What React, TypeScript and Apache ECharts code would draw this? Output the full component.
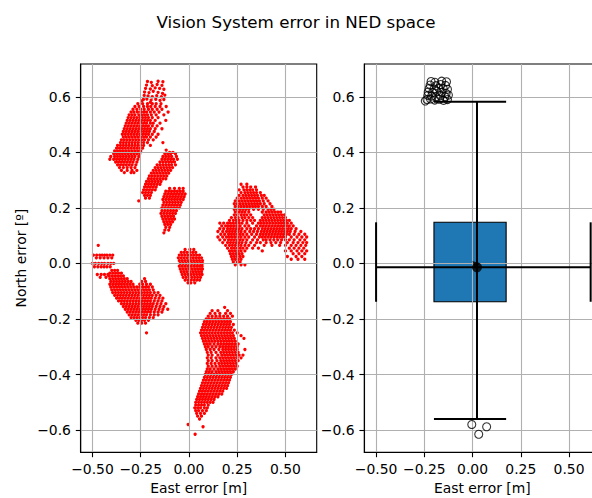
import React, { useEffect, useRef } from "react";
import * as echarts from "echarts";

const FONT = "DejaVu Sans";

// Axis window shared by both panels (matplotlib-style 5% margins)
const X_MIN = -0.561;
const X_MAX = 0.662;
const Y_MIN = -0.68;
const Y_MAX = 0.718;
const xTicks = [-0.5, -0.25, 0, 0.25, 0.5];
const yTicks = [-0.6, -0.4, -0.2, 0, 0.2, 0.4, 0.6];

// Vision error samples, grouped by cluster. Each row: [north, east, east, ...]
const northWestRows: number[][] = [
  [0.58, -0.2],
  [0.575, -0.265, -0.24, -0.215, -0.19, -0.17, -0.145],
  [0.565, -0.28, -0.258, -0.235, -0.215, -0.198, -0.175, -0.15, -0.118],
  [0.555, -0.29, -0.27, -0.25, -0.232, -0.21, -0.19, -0.165, -0.14],
  [0.545, -0.3, -0.285, -0.267, -0.25, -0.235, -0.22, -0.2, -0.18, -0.155, -0.108],
  [0.535, -0.31, -0.295, -0.28, -0.26, -0.245, -0.23, -0.215, -0.195, -0.17, -0.13],
  [0.525, -0.315, -0.3, -0.285, -0.27, -0.255, -0.24, -0.225, -0.21, -0.19, -0.16],
  [0.515, -0.32, -0.305, -0.29, -0.275, -0.26, -0.245, -0.23, -0.215, -0.2, -0.175, -0.12],
  [0.505, -0.325, -0.31, -0.295, -0.28, -0.265, -0.25, -0.235, -0.22, -0.2, -0.185, -0.15],
  [0.495, -0.33, -0.315, -0.3, -0.285, -0.27, -0.255, -0.24, -0.225, -0.21, -0.19, -0.165],
  [0.485, -0.335, -0.32, -0.305, -0.29, -0.275, -0.26, -0.245, -0.23, -0.215, -0.2, -0.175, -0.14],
  [0.475, -0.34, -0.325, -0.31, -0.295, -0.28, -0.265, -0.25, -0.235, -0.22, -0.205, -0.18],
  [0.465, -0.345, -0.33, -0.315, -0.3, -0.285, -0.27, -0.255, -0.24, -0.225, -0.21, -0.19, -0.16],
  [0.455, -0.34, -0.325, -0.31, -0.295, -0.28, -0.265, -0.25, -0.235, -0.22, -0.2, -0.17],
  [0.445, -0.35, -0.335, -0.32, -0.305, -0.29, -0.275, -0.26, -0.245, -0.23, -0.21, -0.185],
  [0.435, -0.355, -0.34, -0.325, -0.31, -0.295, -0.28, -0.265, -0.25, -0.235, -0.215, -0.135],
  [0.425, -0.37, -0.355, -0.34, -0.325, -0.31, -0.295, -0.28, -0.265, -0.25, -0.235, -0.2],
  [0.415, -0.375, -0.36, -0.345, -0.33, -0.315, -0.3, -0.285, -0.27, -0.255, -0.24],
  [0.405, -0.385, -0.37, -0.355, -0.34, -0.325, -0.31, -0.295, -0.28, -0.265, -0.25],
  [0.395, -0.39, -0.375, -0.36, -0.345, -0.33, -0.315, -0.3, -0.285, -0.27, -0.255],
  [0.385, -0.405, -0.385, -0.37, -0.355, -0.34, -0.325, -0.31, -0.295, -0.28, -0.26],
  [0.375, -0.41, -0.39, -0.375, -0.36, -0.345, -0.33, -0.315, -0.3, -0.285, -0.265],
  [0.365, -0.38, -0.365, -0.35, -0.335, -0.32, -0.305, -0.29, -0.27],
  [0.355, -0.37, -0.355, -0.34, -0.325, -0.31, -0.295, -0.275],
  [0.345, -0.36, -0.34, -0.32, -0.3, -0.28],
  [0.335, -0.35, -0.32, -0.295, -0.27],
  [0.327, -0.335, -0.3, -0.285],
];

// Sparse streak above the north-west cluster
const northWestTop: number[][] = [
  [-0.215, 0.655], [-0.195, 0.652], [-0.16, 0.656], [-0.135, 0.654],
  [-0.22, 0.642], [-0.19, 0.64], [-0.165, 0.644], [-0.14, 0.641],
  [-0.225, 0.63], [-0.2, 0.628], [-0.175, 0.632], [-0.152, 0.63], [-0.13, 0.627],
  [-0.23, 0.617], [-0.207, 0.615], [-0.185, 0.62], [-0.16, 0.616], [-0.137, 0.612],
  [-0.232, 0.605], [-0.212, 0.603], [-0.19, 0.6], [-0.167, 0.604], [-0.143, 0.6], [-0.125, 0.606],
  [-0.236, 0.59], [-0.218, 0.592], [-0.196, 0.588], [-0.172, 0.591], [-0.15, 0.587], [-0.13, 0.59],
  [-0.245, 0.585],
];

const northCentreRows: number[][] = [
  [0.408, -0.118],
  [0.4, -0.1, -0.083],
  [0.395, -0.125, -0.11, -0.095, -0.07],
  [0.385, -0.135, -0.12, -0.105, -0.09, -0.065],
  [0.375, -0.14, -0.125, -0.11, -0.095, -0.08, -0.06],
  [0.365, -0.15, -0.135, -0.12, -0.105, -0.09, -0.075],
  [0.355, -0.165, -0.15, -0.135, -0.12, -0.105, -0.09, -0.07],
  [0.345, -0.175, -0.16, -0.145, -0.13, -0.115, -0.1, -0.085],
  [0.335, -0.185, -0.17, -0.155, -0.14, -0.125, -0.11, -0.095],
  [0.325, -0.195, -0.18, -0.165, -0.15, -0.135, -0.12, -0.105],
  [0.315, -0.205, -0.19, -0.175, -0.16, -0.145, -0.13, -0.115],
  [0.305, -0.21, -0.195, -0.18, -0.165, -0.15, -0.135, -0.12],
  [0.295, -0.22, -0.205, -0.19, -0.175, -0.16, -0.145],
  [0.285, -0.225, -0.21, -0.195, -0.18, -0.165, -0.15],
  [0.275, -0.23, -0.215, -0.2, -0.185, -0.17],
  [0.265, -0.235, -0.22, -0.205, -0.19, -0.175],
  [0.255, -0.24, -0.225, -0.21, -0.195],
  [0.245, -0.23, -0.215, -0.2],
  [0.235, -0.225, -0.205],
  [0.225, -0.26],
];

const northColumnRows: number[][] = [
  [0.27, -0.1, -0.075, -0.05, -0.03],
  [0.26, -0.12, -0.105, -0.09, -0.075, -0.06, -0.045, -0.03],
  [0.25, -0.125, -0.11, -0.095, -0.08, -0.065, -0.05, -0.035, -0.02],
  [0.24, -0.13, -0.115, -0.1, -0.085, -0.07, -0.055, -0.04, -0.025],
  [0.23, -0.135, -0.12, -0.105, -0.09, -0.075, -0.06, -0.045, -0.03],
  [0.22, -0.13, -0.115, -0.1, -0.085, -0.07, -0.055, -0.04],
  [0.21, -0.135, -0.12, -0.105, -0.09, -0.075, -0.06, -0.045],
  [0.2, -0.14, -0.125, -0.11, -0.095, -0.08, -0.065, -0.05],
  [0.19, -0.14, -0.125, -0.11, -0.095, -0.08, -0.065],
  [0.18, -0.145, -0.13, -0.115, -0.1, -0.085, -0.07],
  [0.17, -0.14, -0.125, -0.11, -0.095, -0.08],
  [0.16, -0.135, -0.12, -0.105, -0.09, -0.075],
  [0.15, -0.13, -0.115, -0.1, -0.085],
  [0.14, -0.125, -0.11, -0.095],
  [0.13, -0.12, -0.1],
  [0.12, -0.125, -0.105],
  [0.11, -0.13],
];

const eastRows: number[][] = [
  [0.285, 0.27, 0.3],
  [0.275, 0.28, 0.3, 0.32, 0.345],
  [0.265, 0.26, 0.285, 0.3, 0.315, 0.33, 0.35],
  [0.255, 0.27, 0.29, 0.305, 0.32, 0.335, 0.35, 0.37],
  [0.245, 0.26, 0.28, 0.295, 0.31, 0.325, 0.34, 0.355, 0.375, 0.39],
  [0.235, 0.25, 0.27, 0.285, 0.3, 0.315, 0.33, 0.345, 0.36, 0.38, 0.4],
  [0.225, 0.24, 0.26, 0.275, 0.29, 0.305, 0.32, 0.335, 0.35, 0.365, 0.385, 0.41],
  [0.215, 0.235, 0.25, 0.265, 0.28, 0.295, 0.31, 0.325, 0.34, 0.355, 0.37, 0.39, 0.42],
  [0.205, 0.24, 0.255, 0.27, 0.285, 0.3, 0.315, 0.33, 0.345, 0.36, 0.38, 0.4, 0.43],
  [0.195, 0.235, 0.25, 0.265, 0.28, 0.295, 0.31, 0.335, 0.36, 0.385, 0.41, 0.425, 0.44],
  [0.185, 0.24, 0.26, 0.275, 0.29, 0.31, 0.38, 0.4, 0.415, 0.43, 0.445, 0.46, 0.475],
  [0.175, 0.235, 0.25, 0.27, 0.285, 0.3, 0.32, 0.39, 0.405, 0.42, 0.435, 0.45, 0.465, 0.48, 0.495],
  [0.165, 0.22, 0.24, 0.255, 0.275, 0.29, 0.31, 0.33, 0.38, 0.395, 0.41, 0.425, 0.44, 0.455, 0.47, 0.485, 0.5],
  [0.155, 0.21, 0.23, 0.245, 0.26, 0.28, 0.3, 0.32, 0.34, 0.37, 0.385, 0.4, 0.415, 0.43, 0.445, 0.46, 0.475, 0.49, 0.505, 0.52],
  [0.145, 0.16, 0.18, 0.2, 0.215, 0.23, 0.245, 0.26, 0.275, 0.3, 0.33, 0.36, 0.375, 0.39, 0.405, 0.42, 0.435, 0.45, 0.465, 0.48, 0.495, 0.51, 0.53],
  [0.135, 0.17, 0.19, 0.205, 0.22, 0.235, 0.25, 0.265, 0.29, 0.31, 0.35, 0.37, 0.385, 0.4, 0.415, 0.43, 0.445, 0.46, 0.475, 0.49, 0.505, 0.52, 0.54],
  [0.125, 0.16, 0.18, 0.2, 0.215, 0.23, 0.245, 0.26, 0.275, 0.3, 0.32, 0.34, 0.36, 0.38, 0.395, 0.41, 0.425, 0.44, 0.455, 0.47, 0.485, 0.5, 0.515, 0.53, 0.555],
  [0.115, 0.15, 0.175, 0.195, 0.21, 0.225, 0.24, 0.255, 0.27, 0.29, 0.315, 0.335, 0.355, 0.375, 0.39, 0.405, 0.42, 0.435, 0.45, 0.465, 0.48, 0.495, 0.51, 0.525, 0.55, 0.58],
  [0.105, 0.165, 0.185, 0.205, 0.22, 0.235, 0.25, 0.265, 0.28, 0.3, 0.325, 0.35, 0.37, 0.385, 0.4, 0.415, 0.43, 0.445, 0.46, 0.475, 0.49, 0.505, 0.52, 0.545, 0.57, 0.6],
  [0.095, 0.15, 0.175, 0.195, 0.21, 0.225, 0.24, 0.255, 0.27, 0.29, 0.31, 0.34, 0.365, 0.38, 0.395, 0.41, 0.425, 0.44, 0.455, 0.47, 0.485, 0.5, 0.53, 0.56, 0.585, 0.61],
  [0.085, 0.16, 0.185, 0.205, 0.22, 0.235, 0.25, 0.265, 0.28, 0.3, 0.33, 0.355, 0.385, 0.4, 0.42, 0.44, 0.46, 0.48, 0.5, 0.52, 0.545, 0.575, 0.6],
  [0.075, 0.175, 0.2, 0.215, 0.23, 0.245, 0.26, 0.275, 0.295, 0.32, 0.35, 0.37, 0.4, 0.425, 0.45, 0.475, 0.51, 0.54, 0.565, 0.59, 0.61],
  [0.065, 0.19, 0.21, 0.225, 0.24, 0.255, 0.27, 0.29, 0.31, 0.34, 0.39, 0.43, 0.47, 0.5, 0.53, 0.555, 0.58, 0.605],
  [0.055, 0.2, 0.22, 0.235, 0.25, 0.265, 0.28, 0.3, 0.33, 0.36, 0.52, 0.545, 0.57, 0.595],
  [0.045, 0.21, 0.225, 0.24, 0.255, 0.27, 0.29, 0.38, 0.5, 0.53, 0.56, 0.585, 0.61],
  [0.035, 0.215, 0.23, 0.245, 0.26, 0.275, 0.54, 0.57, 0.6],
  [0.025, 0.22, 0.235, 0.25, 0.265, 0.28, 0.51, 0.555, 0.585],
  [0.015, 0.225, 0.24, 0.255, 0.27, 0.53, 0.565, 0.6],
  [0.005, 0.23, 0.25, 0.265],
  [-0.005, 0.24, 0.27, 0.29],
];

const westRows: number[][] = [
  [0.065, -0.47],
  [0.03, -0.495, -0.478, -0.462, -0.45, -0.437, -0.425, -0.41, -0.395],
  [0.02, -0.48, -0.46, -0.44, -0.42, -0.4],
  [0.0, -0.5, -0.485, -0.468, -0.452, -0.438, -0.42, -0.405, -0.39],
  [-0.012, -0.49, -0.472, -0.455, -0.44, -0.425, -0.408],
  [-0.04, -0.475, -0.455, -0.438, -0.42],
  [-0.05, -0.46, -0.43],
];

const southWestRows: number[][] = [
  [-0.025, -0.4, -0.385, -0.37],
  [-0.035, -0.41, -0.395, -0.38, -0.365, -0.35],
  [-0.045, -0.415, -0.4, -0.385, -0.37, -0.355, -0.34],
  [-0.055, -0.41, -0.395, -0.38, -0.365, -0.35, -0.335, -0.32, -0.23],
  [-0.065, -0.405, -0.39, -0.375, -0.36, -0.345, -0.33, -0.315, -0.3, -0.245, -0.225],
  [-0.075, -0.41, -0.395, -0.38, -0.365, -0.35, -0.335, -0.32, -0.305, -0.29, -0.255, -0.24, -0.22, -0.2],
  [-0.085, -0.405, -0.39, -0.375, -0.36, -0.345, -0.33, -0.315, -0.3, -0.285, -0.27, -0.255, -0.24, -0.225, -0.21, -0.19],
  [-0.095, -0.4, -0.385, -0.37, -0.355, -0.34, -0.325, -0.31, -0.295, -0.28, -0.265, -0.25, -0.235, -0.22, -0.205, -0.185],
  [-0.105, -0.395, -0.38, -0.365, -0.35, -0.335, -0.32, -0.305, -0.29, -0.275, -0.26, -0.245, -0.23, -0.215, -0.2, -0.18, -0.16],
  [-0.115, -0.385, -0.37, -0.355, -0.34, -0.325, -0.31, -0.295, -0.28, -0.265, -0.25, -0.235, -0.22, -0.205, -0.19, -0.17, -0.15],
  [-0.125, -0.375, -0.36, -0.345, -0.33, -0.315, -0.3, -0.285, -0.27, -0.255, -0.24, -0.225, -0.21, -0.195, -0.175, -0.155, -0.135],
  [-0.135, -0.365, -0.35, -0.335, -0.32, -0.305, -0.29, -0.275, -0.26, -0.245, -0.23, -0.215, -0.2, -0.18, -0.16, -0.14],
  [-0.145, -0.35, -0.335, -0.32, -0.305, -0.29, -0.275, -0.26, -0.245, -0.23, -0.215, -0.2, -0.185, -0.165, -0.145, -0.12],
  [-0.155, -0.34, -0.325, -0.31, -0.295, -0.28, -0.265, -0.25, -0.235, -0.22, -0.205, -0.19, -0.17, -0.15, -0.13],
  [-0.165, -0.33, -0.315, -0.3, -0.285, -0.27, -0.255, -0.24, -0.225, -0.21, -0.195, -0.175, -0.155, -0.135, -0.11],
  [-0.175, -0.32, -0.305, -0.29, -0.275, -0.26, -0.245, -0.23, -0.215, -0.2, -0.18, -0.16, -0.14],
  [-0.185, -0.31, -0.295, -0.28, -0.265, -0.25, -0.235, -0.22, -0.2, -0.18, -0.16],
  [-0.195, -0.3, -0.285, -0.27, -0.255, -0.24, -0.225, -0.205, -0.185],
  [-0.205, -0.275, -0.26, -0.245, -0.23, -0.21],
  [-0.215, -0.265, -0.245, -0.225],
  [-0.25, -0.22],
];

const centreRows: number[][] = [
  [0.05, -0.02, 0.005, 0.025],
  [0.04, -0.04, -0.025, -0.01, 0.005, 0.02, 0.035],
  [0.03, -0.05, -0.035, -0.02, -0.005, 0.01, 0.025, 0.04, 0.055],
  [0.02, -0.055, -0.04, -0.025, -0.01, 0.005, 0.02, 0.035, 0.05, 0.065],
  [0.01, -0.05, -0.035, -0.02, -0.005, 0.01, 0.025, 0.04, 0.055, 0.07],
  [0.0, -0.045, -0.03, -0.015, 0.0, 0.015, 0.03, 0.045, 0.06, 0.07],
  [-0.01, -0.05, -0.035, -0.02, -0.005, 0.01, 0.025, 0.04, 0.055, 0.068],
  [-0.02, -0.045, -0.03, -0.015, 0.0, 0.015, 0.03, 0.045, 0.06, 0.07],
  [-0.03, -0.04, -0.025, -0.01, 0.005, 0.02, 0.035, 0.05, 0.065],
  [-0.04, -0.035, -0.02, -0.005, 0.01, 0.025, 0.04, 0.055, 0.068],
  [-0.05, -0.03, -0.015, 0.0, 0.015, 0.03, 0.045, 0.06],
  [-0.06, -0.02, -0.005, 0.01, 0.025, 0.04, 0.055],
  [-0.07, -0.005, 0.01, 0.03],
];

const southRows: number[][] = [
  [-0.158, 0.185],
  [-0.17, 0.12, 0.15, 0.2],
  [-0.18, 0.11, 0.135, 0.16, 0.19, 0.215],
  [-0.19, 0.1, 0.12, 0.14, 0.16, 0.18, 0.2, 0.225],
  [-0.2, 0.09, 0.105, 0.12, 0.135, 0.15, 0.165, 0.18, 0.195, 0.21],
  [-0.21, 0.08, 0.095, 0.11, 0.125, 0.14, 0.155, 0.17, 0.185, 0.2, 0.215],
  [-0.22, 0.075, 0.09, 0.105, 0.12, 0.135, 0.15, 0.165, 0.18, 0.195, 0.21, 0.23],
  [-0.23, 0.07, 0.085, 0.1, 0.115, 0.13, 0.145, 0.16, 0.175, 0.19, 0.205, 0.22],
  [-0.24, 0.065, 0.08, 0.095, 0.11, 0.125, 0.14, 0.155, 0.17, 0.185, 0.2, 0.215, 0.235],
  [-0.25, 0.06, 0.075, 0.09, 0.105, 0.12, 0.135, 0.15, 0.165, 0.18, 0.195, 0.21, 0.225, 0.25],
  [-0.26, 0.065, 0.08, 0.095, 0.11, 0.125, 0.14, 0.155, 0.17, 0.185, 0.2, 0.215, 0.23, 0.27],
  [-0.27, 0.07, 0.085, 0.1, 0.115, 0.13, 0.145, 0.16, 0.175, 0.19, 0.205, 0.22, 0.235, 0.285],
  [-0.28, 0.075, 0.09, 0.105, 0.12, 0.135, 0.15, 0.165, 0.18, 0.195, 0.21, 0.225, 0.24],
  [-0.29, 0.08, 0.095, 0.11, 0.13, 0.15, 0.165, 0.18, 0.195, 0.21, 0.225, 0.24, 0.255],
  [-0.3, 0.085, 0.1, 0.12, 0.14, 0.16, 0.175, 0.19, 0.205, 0.22, 0.235, 0.25],
  [-0.31, 0.09, 0.11, 0.13, 0.155, 0.175, 0.19, 0.205, 0.22, 0.235, 0.25, 0.29],
  [-0.32, 0.095, 0.115, 0.14, 0.165, 0.18, 0.195, 0.21, 0.225, 0.24, 0.255],
  [-0.33, 0.1, 0.12, 0.15, 0.17, 0.185, 0.2, 0.215, 0.23, 0.245, 0.26, 0.28],
  [-0.34, 0.095, 0.115, 0.14, 0.16, 0.175, 0.19, 0.205, 0.22, 0.235, 0.25, 0.27],
  [-0.35, 0.1, 0.12, 0.145, 0.165, 0.18, 0.195, 0.21, 0.225, 0.24, 0.255],
  [-0.36, 0.095, 0.115, 0.135, 0.155, 0.17, 0.185, 0.2, 0.215, 0.23, 0.245],
  [-0.37, 0.1, 0.12, 0.14, 0.16, 0.175, 0.19, 0.205, 0.22, 0.235, 0.25],
  [-0.38, 0.095, 0.11, 0.13, 0.15, 0.165, 0.18, 0.195, 0.21, 0.225, 0.24],
  [-0.39, 0.09, 0.105, 0.12, 0.14, 0.155, 0.17, 0.185, 0.2, 0.215, 0.23],
  [-0.4, 0.085, 0.1, 0.115, 0.13, 0.145, 0.16, 0.175, 0.19, 0.205, 0.22],
  [-0.41, 0.08, 0.095, 0.11, 0.125, 0.14, 0.155, 0.17, 0.185, 0.2, 0.215],
  [-0.42, 0.075, 0.09, 0.105, 0.12, 0.135, 0.15, 0.165, 0.18, 0.195, 0.21],
  [-0.43, 0.07, 0.085, 0.1, 0.115, 0.13, 0.145, 0.16, 0.175, 0.19, 0.205],
  [-0.44, 0.065, 0.08, 0.095, 0.11, 0.125, 0.14, 0.155, 0.17, 0.185, 0.2],
  [-0.45, 0.06, 0.075, 0.09, 0.105, 0.12, 0.135, 0.15, 0.165, 0.18, 0.195],
  [-0.46, 0.055, 0.07, 0.085, 0.1, 0.115, 0.13, 0.145, 0.16, 0.175],
  [-0.47, 0.05, 0.065, 0.08, 0.095, 0.11, 0.125, 0.14, 0.155, 0.17],
  [-0.48, 0.045, 0.06, 0.075, 0.09, 0.105, 0.12, 0.135, 0.15],
  [-0.49, 0.04, 0.055, 0.07, 0.085, 0.1, 0.115, 0.13],
  [-0.5, 0.035, 0.05, 0.065, 0.08, 0.095, 0.11, 0.125],
  [-0.51, 0.035, 0.05, 0.065, 0.08, 0.1],
  [-0.52, 0.03, 0.045, 0.06, 0.08, 0.095],
  [-0.53, 0.035, 0.05, 0.07, 0.09],
  [-0.54, 0.04, 0.06, 0.08],
  [-0.55, 0.045, 0.065],
  [-0.56, 0.055],
];

const southTail: number[][] = [
  [-0.004, -0.58],
  [0.032, -0.615],
  [0.073, -0.588],
];

// Box-plot summary of the same samples
const eastQuartiles = [-0.2, 0.174];
const northQuartiles = [-0.138, 0.148];
const eastWhiskers = [-0.5, 0.612];
const northWhiskers = [-0.56, 0.582];
const medianPoint = [0.023, -0.014];
const meanPoint = [0.012, 0.0];

const rowsToPoints = (rows: number[][]) =>
  rows.flatMap(([north, ...easts]) => easts.map((east) => [east, north]));

const samples: number[][] = [
  ...rowsToPoints(northWestRows),
  ...northWestTop,
  ...rowsToPoints(northCentreRows),
  ...rowsToPoints(northColumnRows),
  ...rowsToPoints(eastRows),
  ...rowsToPoints(westRows),
  ...rowsToPoints(southWestRows),
  ...rowsToPoints(centreRows),
  ...rowsToPoints(southRows),
  ...southTail,
];

const outliers = samples.filter(
  ([e, n]) =>
    n > northWhiskers[1] ||
    n < northWhiskers[0] ||
    e < eastWhiskers[0] ||
    e > eastWhiskers[1]
);

const uminus = (s: string) => s.replace("-", "\u2212");

const textStyle = { color: "#000", fontSize: 13.9, fontFamily: FONT };

function makeXAxis(gridIndex: number) {
  return {
    type: "value",
    gridIndex,
    min: X_MIN,
    max: X_MAX,
    z: 3,
    name: "East error [m]",
    nameLocation: "middle",
    nameGap: 27,
    nameTextStyle: textStyle,
    axisLine: { show: true, onZero: false, lineStyle: { color: "#000", width: 1.1 } },
    axisTick: {
      show: true,
      length: 4.9,
      customValues: xTicks,
      lineStyle: { color: "#000", width: 1.1 },
    },
    axisLabel: {
      ...textStyle,
      margin: 9.8,
      customValues: xTicks,
      formatter: (v: number) => uminus(v.toFixed(2)),
    },
    splitLine: { show: true, lineStyle: { color: "#b0b0b0", width: 1.1 } },
  };
}

function makeYAxis(gridIndex: number, name?: string) {
  return {
    type: "value",
    gridIndex,
    min: Y_MIN,
    max: Y_MAX,
    z: 3,
    name: name ?? "",
    nameLocation: "middle",
    nameGap: 53,
    nameTextStyle: textStyle,
    axisLine: { show: true, onZero: false, lineStyle: { color: "#000", width: 1.1 } },
    axisTick: {
      show: true,
      length: 4.9,
      customValues: yTicks,
      lineStyle: { color: "#000", width: 1.1 },
    },
    axisLabel: {
      ...textStyle,
      margin: 9.8,
      customValues: yTicks,
      formatter: (v: number) => uminus(v.toFixed(1)),
    },
    splitLine: { show: true, lineStyle: { color: "#b0b0b0", width: 1.1 } },
  };
}

export default function App() {
  const ref = useRef<HTMLDivElement>(null);

  useEffect(() => {
    if (!ref.current) return;
    const chart = echarts.init(ref.current, undefined, { renderer: "svg" });

    const gridBase = {
      show: true,
      top: 64,
      width: 236,
      height: 388.3,
      borderColor: "#000",
      borderWidth: 1.1,
      backgroundColor: "transparent",
      containLabel: false,
      outerBoundsMode: "none",
    };

    const option: any = {
      animation: false,
      backgroundColor: "#fff",
      title: {
        text: "Vision System error in NED space",
        left: "center",
        top: 8,
        textStyle: {
          color: "#000",
          fontSize: 16.7,
          fontWeight: "normal",
          fontFamily: FONT,
        },
      },
      grid: [
        { ...gridBase, left: 80.7 },
        { ...gridBase, left: 364.3 },
      ],
      xAxis: [makeXAxis(0), makeXAxis(1)],
      yAxis: [makeYAxis(0, "North error [º]"), makeYAxis(1)],
      series: [
        {
          type: "scatter",
          xAxisIndex: 0,
          yAxisIndex: 0,
          z: 1,
          silent: true,
          symbol: "circle",
          symbolSize: 3.3,
          itemStyle: { color: "#ff0000", opacity: 1 },
          data: samples,
        },
        {
          // interquartile box
          type: "custom",
          xAxisIndex: 1,
          yAxisIndex: 1,
          z: 1,
          silent: true,
          data: [[medianPoint[0], medianPoint[1]]],
          renderItem: (_params: any, api: any) => {
            const a = api.coord([eastQuartiles[0], northQuartiles[1]]);
            const b = api.coord([eastQuartiles[1], northQuartiles[0]]);
            return {
              type: "rect",
              shape: { x: a[0], y: a[1], width: b[0] - a[0], height: b[1] - a[1] },
              style: { fill: "#1f77b4", stroke: "#000", lineWidth: 1.1 },
            };
          },
        },
        {
          // whiskers and caps in both directions
          type: "custom",
          xAxisIndex: 1,
          yAxisIndex: 1,
          z: 5,
          silent: true,
          data: [[medianPoint[0], medianPoint[1]]],
          renderItem: (_params: any, api: any) => {
            const seg = (x1: number, y1: number, x2: number, y2: number) => {
              const p = api.coord([x1, y1]);
              const q = api.coord([x2, y2]);
              return {
                type: "line",
                shape: { x1: p[0], y1: p[1], x2: q[0], y2: q[1] },
                style: { stroke: "#000", lineWidth: 2 },
              };
            };
            const [mx, my] = medianPoint;
            return {
              type: "group",
              children: [
                seg(eastWhiskers[0], my, eastWhiskers[1], my),
                seg(mx, northWhiskers[0], mx, northWhiskers[1]),
                seg(eastQuartiles[0], northWhiskers[1], eastQuartiles[1], northWhiskers[1]),
                seg(eastQuartiles[0], northWhiskers[0], eastQuartiles[1], northWhiskers[0]),
                seg(eastWhiskers[0], northQuartiles[0], eastWhiskers[0], northQuartiles[1]),
                seg(eastWhiskers[1], northQuartiles[0], eastWhiskers[1], northQuartiles[1]),
              ],
            };
          },
        },
        {
          type: "scatter",
          xAxisIndex: 1,
          yAxisIndex: 1,
          z: 6,
          silent: true,
          symbol: "circle",
          symbolSize: 8,
          itemStyle: { color: "rgba(0,0,0,0)", borderColor: "#000", borderWidth: 1.1 },
          data: outliers,
        },
        {
          type: "scatter",
          xAxisIndex: 1,
          yAxisIndex: 1,
          z: 7,
          silent: true,
          symbol: "triangle",
          symbolRotate: 45,
          symbolSize: 7,
          itemStyle: { color: "#000" },
          data: [meanPoint],
        },
        {
          type: "scatter",
          xAxisIndex: 1,
          yAxisIndex: 1,
          z: 7,
          silent: true,
          symbol: "circle",
          symbolSize: 10,
          itemStyle: { color: "#000" },
          data: [medianPoint],
        },
      ],
    };

    chart.setOption(option);
    return () => chart.dispose();
  }, []);

  return (
    <div
      ref={ref}
      style={{ position: "absolute", left: 0, top: 0, width: 592, height: 498 }}
    />
  );
}
